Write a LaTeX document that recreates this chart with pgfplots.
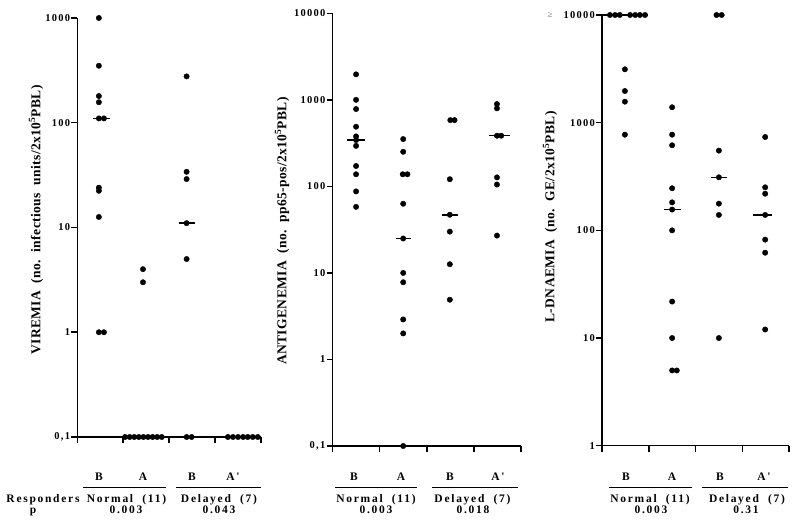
\documentclass[border=0pt]{standalone}
\usepackage{fontspec}
\setmainfont{Liberation Serif}
\newfontfamily\tkfont[LetterSpace=12]{Liberation Serif}
\newfontfamily\btfont[LetterSpace=15]{Liberation Serif}
\newfontfamily\ylfont[LetterSpace=3]{Liberation Serif}
\usepackage{pgfplots}
\pgfplotsset{compat=1.18}
\pgfplotsset{
  every axis/.append style={
    scale only axis, xmin=0, xmax=4,
    axis x line=bottom, axis y line=left,
    axis line style={-, line width=1.3pt},
    xtick={0,1,2,3,4}, xticklabels={},
    xtick align=outside, ytick align=outside,
    major tick length=6pt,
    tick style={draw=black, line width=1.5pt},
    yticklabel style={font=\tkfont\bfseries\fontsize{10.5}{12}\selectfont, inner xsep=1pt},
    clip=false,
  },
}
\tikzset{mydot/.style={only marks, mark=*, mark size=2.7pt, black},
  mymed/.style={no marks, line width=1.5pt, black},
  mytick/.style={line width=1.5pt, black}}
\newcommand{\bfont}{\btfont\bfseries\fontsize{11.5}{13}\selectfont}
\newcommand{\yfont}{\ylfont\bfseries\fontsize{13.5}{15}\selectfont}
\begin{document}
\begin{tikzpicture}
\path[use as bounding box] (0pt,0pt) rectangle (800pt,522pt);

% ---------- Panel 1: VIREMIA ----------
\begin{axis}[ymode=log, yminorticks=false, anchor=south west,
  at={(77.3pt,85pt)}, width=183.7pt, height=419pt,
  ymin=0.1, ymax=1000,
  ytick={0.1,1,10,100,1000}, yticklabels={{0,1},1,10,100,1000}]
\addplot[mydot] coordinates {
 (0.47,1000) (0.47,350) (0.47,180) (0.47,157) (0.47,110) (0.58,110)
 (0.47,24) (0.47,22.4) (0.47,12.6) (0.47,1) (0.58,1)};
\addplot[mydot] coordinates {
 (1.43,4) (1.43,3)
 (1.04,0.1) (1.14,0.1) (1.24,0.1) (1.34,0.1) (1.44,0.1) (1.54,0.1) (1.64,0.1) (1.74,0.1) (1.84,0.1)};
\addplot[mydot] coordinates {
 (2.38,277) (2.38,34) (2.38,29) (2.38,11) (2.38,5) (2.38,0.1) (2.49,0.1)};
\addplot[mydot] coordinates {
 (3.28,0.1) (3.39,0.1) (3.50,0.1) (3.61,0.1) (3.71,0.1) (3.82,0.1) (3.93,0.1)};
\addplot[mymed] coordinates {(0.34,110) (0.71,110)};
\addplot[mymed] coordinates {(2.21,11) (2.56,11)};
\end{axis}
\foreach \xx in {77.3,123.2,169.2,215.1,261}{\draw[mytick] (\xx pt,85pt) -- (\xx pt,79pt);}
\foreach \yy in {85,189.75,294.5,399.25,504}{\draw[mytick] (77.3pt,\yy pt) -- (71.3pt,\yy pt);}

% ---------- Panel 2: ANTIGENEMIA ----------
\begin{axis}[ymode=log, yminorticks=false, anchor=south west,
  at={(332.5pt,76pt)}, width=188.5pt, height=432.7pt,
  ymin=0.1, ymax=10000,
  ytick={0.1,1,10,100,1000,10000}, yticklabels={{0,1},1,10,100,1000,10000}]
\addplot[mydot] coordinates {
 (0.50,1970) (0.50,1000) (0.50,783) (0.50,489) (0.50,378) (0.50,343)
 (0.50,294) (0.50,172) (0.50,138) (0.50,87.5) (0.50,58)};
\addplot[mydot] coordinates {
 (1.50,352) (1.50,251) (1.49,138) (1.59,138) (1.50,63) (1.50,25)
 (1.50,10) (1.50,7.8) (1.50,2.9) (1.50,2.0) (1.50,0.1)};
\addplot[mydot] coordinates {
 (2.50,583) (2.59,583) (2.49,121) (2.49,47) (2.49,30) (2.49,12.6) (2.49,4.9)};
\addplot[mydot] coordinates {
 (3.49,894) (3.49,798) (3.49,385) (3.58,385) (3.49,127) (3.49,105) (3.49,27)};
\addplot[mymed] coordinates {(0.31,343) (0.69,343)};
\addplot[mymed] coordinates {(1.34,25) (1.66,25)};
\addplot[mymed] coordinates {(2.32,47) (2.67,47)};
\addplot[mymed] coordinates {(3.32,385) (3.76,385)};
\end{axis}
\foreach \xx in {332.5,379.6,426.75,473.9,521}{\draw[mytick] (\xx pt,76pt) -- (\xx pt,70pt);}
\foreach \yy in {76,162.54,249.08,335.62,422.16,508.7}{\draw[mytick] (332.5pt,\yy pt) -- (326.5pt,\yy pt);}

% ---------- Panel 3: L-DNAEMIA ----------
\begin{axis}[ymode=log, yminorticks=false, anchor=south west,
  at={(602pt,76.3pt)}, width=187pt, height=430.7pt,
  ymin=1, ymax=10000,
  ytick={1,10,100,1000,10000}, yticklabels={1,10,100,1000,10000}]
\addplot[mydot] coordinates {
 (0.17,10000) (0.28,10000) (0.38,10000) (0.60,10000) (0.71,10000) (0.81,10000) (0.92,10000)
 (0.49,3130) (0.49,1968) (0.49,1567) (0.49,774)};
\addplot[mydot] coordinates {
 (1.50,1390) (1.50,774) (1.50,617) (1.50,246) (1.50,182) (1.50,156)
 (1.50,100) (1.50,21.8) (1.50,10) (1.50,5) (1.60,5)};
\addplot[mydot] coordinates {
 (2.45,10000) (2.56,10000) (2.50,550) (2.50,311) (2.50,177) (2.50,139) (2.50,10)};
\addplot[mydot] coordinates {
 (3.49,736) (3.49,251) (3.49,219) (3.49,139) (3.49,82) (3.49,62) (3.49,12)};
\addplot[mymed] coordinates {(0,10000) (0.98,10000)};
\addplot[mymed] coordinates {(1.33,156) (1.68,156)};
\addplot[mymed] coordinates {(2.33,311) (2.67,311)};
\addplot[mymed] coordinates {(3.23,139) (3.63,139)};
\end{axis}
\foreach \xx in {602,648.75,695.5,742.25,789}{\draw[mytick] (\xx pt,76.3pt) -- (\xx pt,70.3pt);}
\foreach \yy in {76.3,183.975,291.65,399.325,507}{\draw[mytick] (602pt,\yy pt) -- (596pt,\yy pt);}

% ---------- y labels ----------
\node[rotate=90, font=\yfont] at (36pt,302pt) {VIREMIA\ \ (no.\ \ infectious\ \ units/2x10\textsuperscript{5}PBL)};
\node[rotate=90, font=\yfont] at (282pt,291pt) {ANTIGENEMIA\ \ (no.\ \ pp65-pos/2x10\textsuperscript{5}PBL)};
\node[rotate=90, font=\yfont] at (550pt,305pt) {L-DNAEMIA\ \ (no.\ \ GE/2x10\textsuperscript{5}PBL)};
\node[font=\fontsize{9}{10}\selectfont, text=black!60] at (550pt,507pt) {≥};

% ---------- bottom annotations ----------
\begin{scope}[every node/.style={font=\bfont, inner sep=0pt, anchor=base}]
% Panel 1
\node at (99pt,41.5pt) {B}; \node at (143pt,41.5pt) {A};
\node at (192pt,41.5pt) {B}; \node at (233pt,41.5pt) {A'};
\draw[line width=0.9pt] (83pt,35pt) -- (166pt,35pt);
\draw[line width=0.9pt] (176pt,35pt) -- (261pt,35pt);
\node at (126.5pt,19.5pt) {Normal\ \ (11)};
\node at (219pt,19.5pt) {Delayed\ \ (7)};
\node at (126pt,8.7pt) {0.003};
\node at (219pt,8.7pt) {0.043};
\node at (43pt,19.5pt) {Responders};
\node at (33pt,8.2pt) {p};
% Panel 2
\node at (354pt,41.5pt) {B}; \node at (401pt,41.5pt) {A};
\node at (450pt,41.5pt) {B}; \node at (498pt,41.5pt) {A'};
\draw[line width=0.9pt] (335pt,35pt) -- (417pt,35pt);
\draw[line width=0.9pt] (432pt,35pt) -- (518pt,35pt);
\node at (376pt,19.5pt) {Normal\ \ (11)};
\node at (472.5pt,19.5pt) {Delayed\ \ (7)};
\node at (376pt,8.7pt) {0.003};
\node at (473pt,8.7pt) {0.018};
% Panel 3
\node at (626pt,41.5pt) {B}; \node at (672pt,41.5pt) {A};
\node at (720pt,41.5pt) {B}; \node at (764pt,41.5pt) {A'};
\draw[line width=0.9pt] (609pt,35pt) -- (692pt,35pt);
\draw[line width=0.9pt] (702pt,35pt) -- (788pt,35pt);
\node at (650pt,19.5pt) {Normal\ \ (11)};
\node at (747pt,19.5pt) {Delayed\ \ (7)};
\node at (651pt,8.7pt) {0.003};
\node at (746pt,8.7pt) {0.31};
\end{scope}
\end{tikzpicture}
\end{document}
